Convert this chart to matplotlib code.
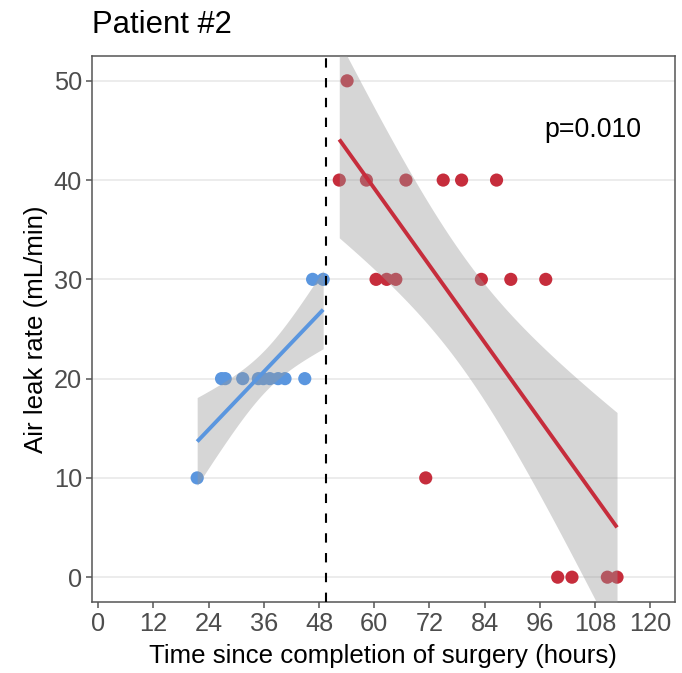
import numpy as np
import matplotlib
matplotlib.use("Agg")
import matplotlib.pyplot as plt

plt.rcParams['font.family'] = ['Liberation Sans', 'DejaVu Sans']

# ---- data ----
pre_hours = [21.5, 26.8, 27.6, 31.4, 34.8, 35.9, 37.3, 39.1, 40.6, 44.9, 46.6, 48.9]
pre_rate = [10, 20, 20, 20, 20, 20, 20, 20, 20, 20, 30, 30]
post_hours = [54.1, 52.4, 58.3, 66.9, 75.0, 79.0, 86.6,
              60.4, 62.7, 64.7, 83.3, 89.7, 97.3,
              71.2, 99.9, 103.0, 110.7, 112.8]
post_rate = [50, 40, 40, 40, 40, 40, 40,
             30, 30, 30, 30, 30, 30,
             10, 0, 0, 0, 0]
cutoff_hour = 49.5
p_label = "p=0.010"
x_ticks = [0, 12, 24, 36, 48, 60, 72, 84, 96, 108, 120]
y_ticks = [0, 10, 20, 30, 40, 50]
# t quantiles (0.975) for df = n - 2
t_pre = 2.228   # df 10
t_post = 2.120  # df 16

blue = "#5A96DF"
red = "#C62D3C"

fig = plt.figure(figsize=(6.82, 6.73), dpi=100)
ax = fig.add_axes([0.1345, 0.1055, 0.8552, 0.8113])

def fit_ci(xs, ys, tq):
    x = np.asarray(xs, float); y = np.asarray(ys, float)
    n = len(x)
    b, a = np.polyfit(x, y, 1)
    resid = y - (a + b * x)
    s = np.sqrt(np.sum(resid ** 2) / (n - 2))
    sxx = np.sum((x - x.mean()) ** 2)
    grid = np.linspace(x.min(), x.max(), 80)
    yhat = a + b * grid
    se = s * np.sqrt(1.0 / n + (grid - x.mean()) ** 2 / sxx)
    return grid, yhat, yhat - tq * se, yhat + tq * se

for yt in y_ticks:
    ax.axhline(yt, color="#EBEBEB", lw=1.3, zorder=0)

ax.scatter(pre_hours, pre_rate, s=90, color=blue, edgecolors='none', zorder=2)
ax.scatter(post_hours, post_rate, s=90, color=red, edgecolors='none', zorder=2)

for xs, ys, tq, col in [(pre_hours, pre_rate, t_pre, blue), (post_hours, post_rate, t_post, red)]:
    g, yh, lo, hi = fit_ci(xs, ys, tq)
    ax.fill_between(g, lo, hi, color="#999999", alpha=0.4, lw=0, zorder=3)
    ax.plot(g, yh, color=col, lw=2.8, zorder=4, solid_capstyle='butt')

ax.axvline(cutoff_hour, color="black", lw=1.5, dashes=(4.5, 5), zorder=5)

ax.text(107.5, 45, p_label, fontsize=19.3, ha='center', va='center', color='black')

ax.set_xlim(-1.43, 125.4)
ax.set_ylim(-2.5, 52.5)
ax.set_xticks(x_ticks)
ax.set_yticks(y_ticks)
ax.tick_params(axis='both', labelsize=18.3, labelcolor="#4D4D4D", color="#555555",
               length=4, width=1.1, pad=3)
for sp in ax.spines.values():
    sp.set_color("#555555")
    sp.set_linewidth(1.1)

ax.set_xlabel("Time since completion of surgery (hours)", fontsize=18.6, color='black', labelpad=6)
ax.set_ylabel("Air leak rate (mL/min)", fontsize=18.6, color='black', labelpad=4)
fig.text(92 / 682, 1 - 25 / 673, "Patient #2", fontsize=22.3, ha='left', va='center')

fig.savefig("out.png", dpi=100)
